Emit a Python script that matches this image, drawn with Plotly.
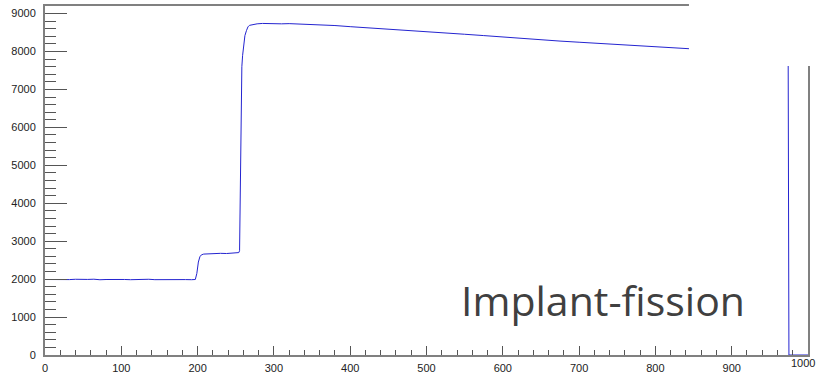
import plotly.graph_objects as go

# bin centres (channel) and counts
channel = [0, 8, 16, 24, 32, 40, 48, 56, 64, 72, 80, 88, 96, 104, 112, 120, 128,
           136, 144, 152, 160, 168, 176, 184, 192, 197, 199, 201, 203, 205, 208,
           215, 222, 230, 238, 246, 252, 254, 255, 256, 257, 258, 259, 260, 261,
           262, 264, 266, 268, 272, 278, 285, 292, 300, 310, 320, 335, 350, 365,
           380, 400, 425, 450, 475, 500, 525, 550, 575, 600, 625, 650, 675, 700,
           725, 750, 775, 800, 825, 845, 870, 900, 930, 960, 974, 975, 1000]
counts = [1990, 1985, 1995, 1990, 1988, 1996, 1986, 1992, 1998, 1984, 1990, 1994,
          1987, 1991, 1985, 1993, 1989, 1996, 1986, 1990, 1994, 1985, 1992, 1988,
          1985, 1990, 2150, 2450, 2590, 2640, 2660, 2670, 2665, 2680, 2675, 2685,
          2690, 2700, 2750, 4200, 6900, 7600, 7900, 8150, 8300, 8420, 8550, 8650,
          8690, 8710, 8730, 8740, 8735, 8740, 8730, 8735, 8725, 8715, 8700, 8685,
          8655, 8625, 8590, 8560, 8525, 8490, 8455, 8420, 8380, 8345, 8310, 8275,
          8245, 8215, 8185, 8155, 8125, 8095, 8070, 8040, 8005, 7970, 7935, 7920,
          0, 0]

x_ticks = [0, 100, 200, 300, 400, 500, 600, 700, 800, 900, 1000]
y_ticks = [0, 1000, 2000, 3000, 4000, 5000, 6000, 7000, 8000, 9000]
annotation_text = "Implant-fission"

fig = go.Figure()
fig.add_trace(go.Scatter(x=channel, y=counts, mode="lines",
                         line=dict(color="#2424d0", width=1), hoverinfo="skip"))

tickfont = dict(family="Liberation Sans, Arial", size=11, color="#222")
# last x label is drawn separately so it can sit inside the page edge
x_text = [str(v) for v in x_ticks[:-1]] + [""]
fig.update_xaxes(range=[0, 1000], tickvals=x_ticks, ticktext=x_text,
                 ticks="inside", ticklen=9, tickwidth=1, tickcolor="#555",
                 minor=dict(dtick=20, ticks="inside", ticklen=5, tickcolor="#555", tickwidth=1),
                 showgrid=False, zeroline=False, showline=True, linecolor="#808080",
                 linewidth=2, mirror=True, tickfont=tickfont, ticklabelstandoff=2,
                 ticklabeloverflow="allow", automargin=False)
fig.update_yaxes(range=[0, 9200], tickvals=y_ticks, ticktext=[str(v) for v in y_ticks],
                 ticks="inside", ticklen=22, tickwidth=1, tickcolor="#555",
                 minor=dict(dtick=200, ticks="inside", ticklen=11, tickcolor="#555", tickwidth=1),
                 showgrid=False, zeroline=False, showline=True, linecolor="#808080",
                 linewidth=2, mirror=True, tickfont=tickfont, ticklabelstandoff=5,
                 ticklabeloverflow="allow", automargin=False)

fig.add_annotation(x=x_ticks[-1], y=0, xref="x", yref="paper", text=str(x_ticks[-1]),
                   showarrow=False, font=tickfont, xanchor="right", yanchor="top",
                   xshift=9, yshift=0)

# white patch covering the top-right corner (as in the reference)
fig.add_shape(type="rect", xref="paper", yref="paper", x0=0.844, x1=1.02, y0=0.828, y1=1.03,
              fillcolor="white", line=dict(width=0), layer="above")

fig.add_annotation(x=0.7315, y=0.158, xref="paper", yref="paper", text=annotation_text,
                   showarrow=False, font=dict(family="Open Sans", size=41, color="#404040"),
                   xanchor="center", yanchor="middle")

fig.update_layout(width=818, height=375, margin=dict(l=45, r=10, t=6, b=20),
                  paper_bgcolor="white", plot_bgcolor="white", showlegend=False)

fig.write_html("out.html")
